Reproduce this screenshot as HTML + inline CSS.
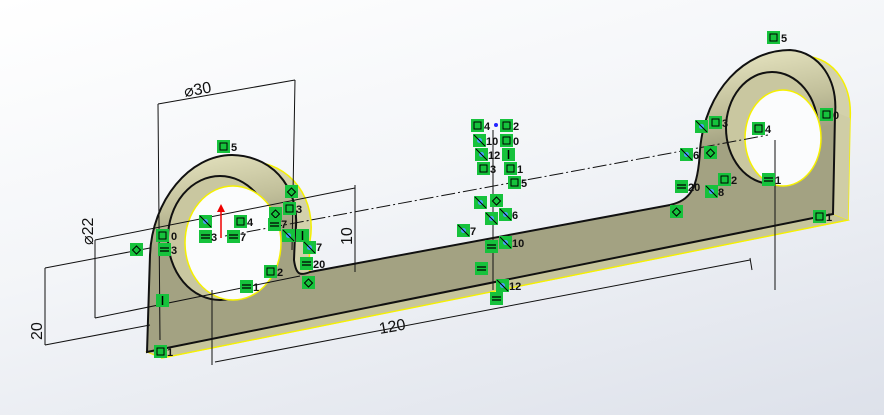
<!DOCTYPE html>
<html><head><style>
body{margin:0;width:884px;height:415px;overflow:hidden;background:linear-gradient(165deg,#ffffff 0%,#f3f5f8 45%,#dde1ea 100%);font-family:"Liberation Sans",sans-serif}
svg{position:absolute;left:0;top:0}
</style></head><body>
<svg width="884" height="415" viewBox="0 0 884 415">
<defs>
<linearGradient id="fg" gradientUnits="userSpaceOnUse" x1="232" y1="155" x2="246" y2="232">
<stop offset="0" stop-color="#dedcb8"/><stop offset="0.55" stop-color="#c2c09b"/><stop offset="1" stop-color="#a3a282"/>
</linearGradient>
<g id="g"><rect x="0" y="0" width="13" height="13" fill="#16c23c"/><rect x="3" y="3" width="7" height="7" fill="none" stroke="#000" stroke-width="1"/></g>
<g id="e"><rect x="0" y="0" width="13" height="13" fill="#16c23c"/><path d="M2 5h9M2 8h9" stroke="#000" stroke-width="1.3"/></g>
<g id="v"><rect x="0" y="0" width="13" height="13" fill="#16c23c"/><path d="M6.5 2v9" stroke="#000" stroke-width="1.5"/></g>
<g id="d"><rect x="0" y="0" width="13" height="13" fill="#16c23c"/><path d="M6.5 3l4 4-4 4-4-4z" fill="none" stroke="#000"/></g>
<g id="x"><rect x="0" y="0" width="13" height="13" fill="#16c23c"/><circle cx="6.5" cy="6.5" r="2.5" fill="#4aa0ff"/><path d="M1 1l11 11" stroke="#000"/></g>
<path id="prof" d="M147 352 L150 255 C152 200 190 155 232 155 C278 156 302 195 295 235 L294 260 C296 275 300 276 310 272 L670 205 C690 200 698 190 700 150 C705 90 745 50 790 50 C820 52 838 80 835 115 L833 214 Z"/>
</defs>
<use href="#prof" transform="translate(15,6)" fill="#d3d1ab" stroke="#f5f000" stroke-width="1.5"/>
<path d="M147 352 L162 358 L848 220 L833 214 Z" fill="#c8c69c" stroke="#f5f000" stroke-width="1.2"/>
<path d="M835 112 L850 118 L848 220 L833 214Z" fill="#cfcda6"/>
<use href="#prof" fill="url(#fg)" stroke="#111" stroke-width="2"/>
<ellipse cx="220" cy="238" rx="52" ry="62" fill="#c9c7a0" stroke="#111" stroke-width="2"/>
<ellipse cx="233" cy="243" rx="48" ry="57" fill="#fbfcfd" stroke="#f5f000" stroke-width="1.5"/>
<ellipse cx="772" cy="128" rx="46" ry="56" fill="#c9c7a0" stroke="#111" stroke-width="2"/>
<ellipse cx="783" cy="138" rx="38" ry="48" fill="#fbfcfd" stroke="#f5f000" stroke-width="1.5"/>
<g stroke="#111" stroke-width="1" fill="none">
<path d="M158 104 L295 80 M158 104 L160 340 M295 80 L292 250"/>
<path d="M95 240 L355 188 M95 318 L300 276 M95 240 L95 318"/>
<path d="M45 268 L150 248 M45 345 L150 325 M45 268 L45 345"/>
<path d="M215 362 L750 260 M212 290 L212 365 M750 258 L752 270"/>
<path d="M355 185 L355 272"/>
<path d="M225 236 L768 135" stroke-dasharray="14 3 2 3"/>
<path d="M493 130 L493 290 M775 140 L775 290"/>
</g>
<path d="M221 238 V207" stroke="#e00" stroke-width="1.5"/><path d="M217 212 L221 204 L225 212Z" fill="#e00"/>
<g font-size="16" fill="#111" font-family="Liberation Sans,sans-serif">
<text x="185" y="97" transform="rotate(-10 185 97)">⌀30</text>
<text x="93" y="245" transform="rotate(-90 93 245)">⌀22</text>
<text x="42" y="340" transform="rotate(-90 42 340)">20</text>
<text x="352" y="245" transform="rotate(-90 352 245)">10</text>
<text x="380" y="334" transform="rotate(-10 380 334)">120</text>
</g>
<g font-size="11" font-weight="bold" fill="#111">
<use href="#g" x="217" y="140"/><text x="231" y="151">5</text>
<use href="#g" x="767" y="31"/><text x="781" y="42">5</text>
<use href="#g" x="156" y="229"/><text x="171" y="240">0</text>
<use href="#e" x="158" y="243"/><text x="171" y="254">3</text>
<use href="#d" x="130" y="243"/>
<use href="#x" x="199" y="215"/>
<use href="#e" x="199" y="230"/><text x="211" y="241">3</text>
<use href="#g" x="234" y="215"/><text x="247" y="226">4</text>
<use href="#e" x="227" y="230"/><text x="240" y="241">7</text>
<use href="#e" x="240" y="280"/><text x="253" y="291">1</text>
<use href="#v" x="156" y="294"/>
<use href="#g" x="154" y="345"/><text x="167" y="356">1</text>
<use href="#d" x="285" y="185"/>
<use href="#g" x="283" y="202"/><text x="296" y="213">3</text>
<use href="#d" x="269" y="207"/><use href="#e" x="268" y="218"/><text x="281" y="228">7</text>
<use href="#x" x="282" y="229"/><use href="#v" x="296" y="229"/>
<use href="#x" x="303" y="241"/><text x="316" y="251">7</text>
<use href="#g" x="264" y="265"/><text x="277" y="276">2</text>
<use href="#e" x="300" y="257"/><text x="313" y="268">20</text>
<use href="#d" x="302" y="276"/>
<use href="#g" x="471" y="119"/><text x="484" y="130">4</text>
<use href="#g" x="500" y="119"/><text x="513" y="130">2</text>
<use href="#x" x="473" y="134"/><text x="486" y="145">10</text>
<use href="#g" x="500" y="134"/><text x="513" y="145">0</text>
<use href="#x" x="475" y="148"/><text x="488" y="159">12</text>
<use href="#v" x="502" y="148"/>
<use href="#g" x="477" y="162"/><text x="490" y="173">3</text>
<use href="#g" x="504" y="162"/><text x="517" y="173">1</text>
<use href="#g" x="508" y="176"/><text x="521" y="187">5</text>
<use href="#x" x="474" y="196"/><use href="#d" x="490" y="194"/>
<use href="#x" x="485" y="212"/><use href="#x" x="499" y="208"/><text x="512" y="219">6</text>
<use href="#x" x="457" y="224"/><text x="470" y="235">7</text>
<use href="#e" x="485" y="240"/><use href="#x" x="499" y="236"/><text x="512" y="247">10</text>
<use href="#e" x="475" y="262"/>
<use href="#x" x="496" y="279"/><text x="509" y="290">12</text>
<use href="#e" x="490" y="292"/>
<use href="#x" x="695" y="120"/><use href="#g" x="709" y="116"/><text x="722" y="127">3</text>
<use href="#g" x="752" y="122"/><text x="765" y="133">4</text>
<use href="#g" x="820" y="108"/><text x="833" y="119">0</text>
<use href="#x" x="680" y="148"/><text x="693" y="159">6</text>
<use href="#d" x="704" y="146"/>
<use href="#g" x="718" y="173"/><text x="731" y="184">2</text>
<use href="#e" x="675" y="180"/><text x="688" y="191">20</text>
<use href="#x" x="705" y="185"/><text x="718" y="196">8</text>
<use href="#d" x="670" y="205"/>
<use href="#e" x="762" y="173"/><text x="775" y="184">1</text>
<use href="#g" x="813" y="210"/><text x="826" y="221">1</text>
</g>
<circle cx="496" cy="125" r="2" fill="#22f"/>
</svg>
</body></html>
